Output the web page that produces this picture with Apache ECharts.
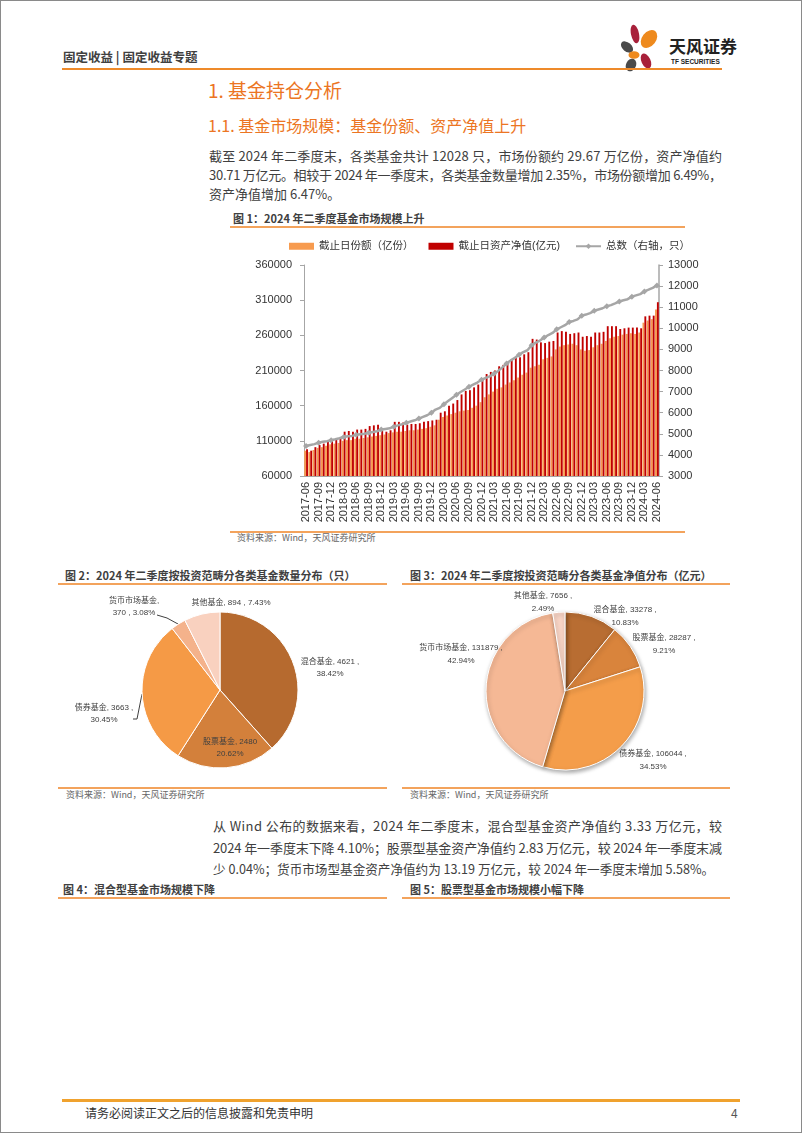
<!DOCTYPE html>
<html><head><meta charset="utf-8">
<script src="https://cdn.jsdelivr.net/npm/echarts@6/dist/echarts.min.js"></script>
<style>
html,body{margin:0;padding:0;background:#fff;}
#page{position:relative;width:802px;height:1133px;overflow:hidden;font-family:"Noto Sans CJK SC",sans-serif;color:#333;}
.t{position:absolute;white-space:nowrap;}
.j{position:absolute;white-space:nowrap;}
.hl{position:absolute;}
#frame{position:absolute;left:0;top:0;width:800px;height:1131px;border:1px solid #8a8a8a;}
#c{position:absolute;left:0;top:0;width:802px;height:1133px;}
.ft{font-size:11px;font-weight:bold;color:#404040;line-height:14px;}
.src{font-size:9px;color:#666;line-height:12px;}
.ol{height:1.5px;background:#F3A35C;}
.p{font-size:13px;color:#404040;}
</style></head>
<body>
<div id="page">
  <div id="frame"></div>
  <div class="t" style="left:63px;top:49px;font-size:12.5px;line-height:16px;font-weight:bold;color:#404040">固定收益 | 固定收益专题</div>
  <svg style="position:absolute;left:618px;top:24px" width="46" height="48" viewBox="0 0 46 48">
    <ellipse cx="17" cy="10" rx="4" ry="9.5" fill="#A8203A" transform="rotate(-12 17 10)"/>
    <ellipse cx="31" cy="15" rx="7" ry="10" fill="#EE8A1E" transform="rotate(38 31 15)"/>
    <ellipse cx="9" cy="23" rx="4.5" ry="7" fill="#4A4A4A" transform="rotate(-50 9 23)"/>
    <ellipse cx="16" cy="31" rx="5.5" ry="3.8" fill="#EE8A1E"/>
    <ellipse cx="13" cy="41" rx="5" ry="6.5" fill="#4A4A4A" transform="rotate(25 13 41)"/>
    <ellipse cx="28" cy="37" rx="4.5" ry="8" fill="#A8203A" transform="rotate(-25 28 37)"/>
  </svg>
  <div class="t" style="left:669px;top:36px;font-size:17px;line-height:20px;font-weight:bold;color:#222">天风证券</div>
  <div class="t" style="left:671px;top:58px;font-size:6.5px;line-height:8px;font-weight:bold;color:#222;font-family:'Liberation Sans',sans-serif">TF SECURITIES</div>
  <div class="hl" style="left:62px;top:68px;width:660px;height:2px;background:#EE8A2A"></div>

  <div class="t" style="left:208px;top:78px;font-size:19px;line-height:24px;color:#EC7523">1. 基金持仓分析</div>
  <div class="t" style="left:208px;top:115px;font-size:16px;line-height:20px;color:#EC7523">1.1. 基金市场规模：基金份额、资产净值上升</div>

  <div class="j p" data-w="513" style="left:209px;top:146px;line-height:19px">截至 2024 年二季度末，各类基金共计 12028 只，市场份额约 29.67 万亿份，资产净值约</div>
  <div class="j p" data-w="513" style="left:209px;top:165px;line-height:19px">30.71 万亿元。相较于 2024 年一季度末，各类基金数量增加 2.35%，市场份额增加 6.49%，</div>
  <div class="t p" style="left:209px;top:184px;line-height:19px">资产净值增加 6.47%。</div>

  <div class="t ft" style="left:233px;top:211px">图 1：2024 年二季度基金市场规模上升</div>
  <div class="hl ol" style="left:230px;top:226px;width:455px"></div>
  <div class="hl ol" style="left:230px;top:531px;width:455px"></div>
  <div class="t src" style="left:237px;top:532px">资料来源：Wind，天风证券研究所</div>

  <div class="t ft" style="left:65px;top:568px">图 2：2024 年二季度按投资范畴分各类基金数量分布（只）</div>
  <div class="hl ol" style="left:58px;top:583px;width:329px"></div>
  <div class="hl ol" style="left:58px;top:787px;width:329px"></div>
  <div class="t src" style="left:66px;top:789px">资料来源：Wind，天风证券研究所</div>

  <div class="t ft" style="left:410px;top:568px">图 3：2024 年二季度按投资范畴分各类基金净值分布（亿元）</div>
  <div class="hl ol" style="left:402px;top:583px;width:328px"></div>
  <div class="hl ol" style="left:402px;top:787px;width:328px"></div>
  <div class="t src" style="left:410px;top:789px">资料来源：Wind，天风证券研究所</div>

  <div class="j p" data-w="509" style="left:213px;top:815px;line-height:21.5px">从 Wind 公布的数据来看，2024 年二季度末，混合型基金资产净值约 3.33 万亿元，较</div>
  <div class="j p" data-w="509" style="left:213px;top:836.5px;line-height:21.5px">2024 年一季度末下降 4.10%；股票型基金资产净值约 2.83 万亿元，较 2024 年一季度末减</div>
  <div class="t p" style="left:213px;top:858px;line-height:21.5px;font-size:12.6px">少 0.04%；货币市场型基金资产净值约为 13.19 万亿元，较 2024 年一季度末增加 5.58%。</div>

  <div class="t ft" style="left:63px;top:882px">图 4：混合型基金市场规模下降</div>
  <div class="hl ol" style="left:58px;top:897px;width:329px"></div>
  <div class="t ft" style="left:410px;top:882px">图 5：股票型基金市场规模小幅下降</div>
  <div class="hl ol" style="left:402px;top:897px;width:328px"></div>

  <div class="hl" style="left:62px;top:1099px;width:678px;height:3px;background:#F0A22E"></div>
  <div class="t" style="left:85px;top:1105px;font-size:12px;line-height:16px;color:#333">请务必阅读正文之后的信息披露和免责申明</div>
  <div class="t" style="left:731px;top:1105px;font-size:12px;line-height:16px;color:#555">4</div>

  <div id="c"></div>
</div>
<script>
// fit justified single lines to their target width
document.querySelectorAll('.j').forEach(el=>{
  const target = +el.dataset.w;
  const n = el.textContent.length;
  const w = el.getBoundingClientRect().width;
  el.style.letterSpacing = ((target - w) / (n - 1)) + 'px';
});

// ---------- data ----------
const months = ['2017-06','2017-07','2017-08','2017-09','2017-10','2017-11','2017-12',
'2018-01','2018-02','2018-03','2018-04','2018-05','2018-06','2018-07','2018-08','2018-09','2018-10','2018-11','2018-12',
'2019-01','2019-02','2019-03','2019-04','2019-05','2019-06','2019-07','2019-08','2019-09','2019-10','2019-11','2019-12',
'2020-01','2020-02','2020-03','2020-04','2020-05','2020-06','2020-07','2020-08','2020-09','2020-10','2020-11','2020-12',
'2021-01','2021-02','2021-03','2021-04','2021-05','2021-06','2021-07','2021-08','2021-09','2021-10','2021-11','2021-12',
'2022-01','2022-02','2022-03','2022-04','2022-05','2022-06','2022-07','2022-08','2022-09','2022-10','2022-11','2022-12',
'2023-01','2023-02','2023-03','2023-04','2023-05','2023-06','2023-07','2023-08','2023-09','2023-10','2023-11','2023-12',
'2024-01','2024-02','2024-03','2024-04','2024-05','2024-06'];

const shares = [96000,94000,97000, 100000,101000,103000, 105000,106000,107000,
110000,111000,111000, 113000,113000,114000, 115000,116000,117000,
118000,119000,121000, 122000,123000,123000, 124000,125000,125000,
126000,127000,128000, 130000,132000,140000, 144000,146000,148000,
150000,152000,153000, 154000,157000,160000, 165000,172000,176000,
180000,184000,186000, 190000,193000,196000, 200000,204000,207000,
214000,216000,218000, 226000,228000,230000, 240000,244000,246000,
247000,248000,246000, 240000,238000,239000, 243000,246000,248000,
252000,256000,258000, 259000,261000,262000, 263000,262000,264000,
278000,281000,283000, 296700];

const nav = [98000,96000,101000, 104000,106000,109000, 111000,113000,114000,
123000,124000,123000, 126000,126000,127000, 131000,132000,133000,
124000,123000,125000, 137000,137000,136000, 133000,134000,134000,
135000,137000,138000, 139000,140000,150000, 152000,160000,163000,
168000,176000,181000, 182000,186000,190000, 198000,205000,208000,
210000,216000,218000, 222000,226000,229000, 229000,233000,236000,
255000,254000,250000, 249000,251000,252000, 264000,266000,265000,
262000,263000,264000, 258000,259000,258000, 264000,264000,265000,
273000,273000,273000, 269000,270000,271000, 271000,271000,270000,
287000,288000,288000, 307100];

const counts = [4420,4470,4510,4580,4620,4650,4700,4740,4790,4850,4880,4900,
4950,4980,5000,5050,5090,5120,5200,5230,5260,5340,5400,5450,
5520,5580,5640,5720,5800,5880,6000,6150,6230,6400,6550,6700,
6850,6980,7100,7230,7330,7430,7560,7650,7720,7850,7980,8150,
8330,8480,8600,8750,8870,8960,9200,9320,9420,9560,9680,9780,
9950,10050,10150,10300,10350,10420,10600,10650,10720,10830,10890,10950,
11050,11100,11180,11270,11330,11380,11500,11560,11620,11750,11830,11920,12030];

const pieNames = ['混合基金','股票基金','债券基金','货币市场基金','其他基金'];
const pieCount = [4621, 2480, 3663, 370, 894];
const pieNav = [33278, 28287, 106044, 131879, 7656];

// ---------- styles / layout ----------
const FONT = '"Liberation Sans", "Noto Sans CJK SC", sans-serif';
const pie1Colors = ['#B66A2F','#D3803B','#F59A46','#F4B28B','#F9D1BF'];
const pie2Colors = ['#B86D32','#D9843C','#F49D4A','#F5B895','#F8D4C5'];
const pie1Fmt = ['{b}, {c} ,\n{d}%','{b}, {c}\n{d}%','{b}, {c} ,\n{d}%','{b},\n{c} , {d}%','{b}, {c} , {d}%'];
const pie1Pos = [[330,668],[230,748],[104,714],[134,607],[231,603]];
const pie1Lines = {2: [[142,694],[137,719],[133,719]], 3: [[178,624],[167,618],[157,615]]};
const pie2Pos = [[625,616],[664,644],[653,760],[461,654],[543,602]];

function pieData(vals, colors, fmts, lines){
  return pieNames.map((n,i)=>({
    name:n, value:vals[i],
    itemStyle:{color:colors[i]},
    label: fmts ? {formatter: fmts[i]} : undefined,
    labelLine:{show: !!(lines && lines[i]), lineStyle:{color:'#404040', width:1}}
  }));
}
function layoutFn(pos, lines){
  return function(p){
    const r = {x:pos[p.dataIndex][0], y:pos[p.dataIndex][1], align:'center', verticalAlign:'middle'};
    if (lines && lines[p.dataIndex]) r.labelLinePoints = lines[p.dataIndex];
    return r;
  };
}
const plain = v => String(v);

const chart = echarts.init(document.getElementById('c'), null, {renderer:'canvas', width:802, height:1133});
chart.setOption({
  animation:false,
  backgroundColor:'transparent',
  textStyle:{fontFamily:FONT},
  legend:{
    left:284, top:236, itemWidth:25, itemHeight:7, itemGap:15,
    textStyle:{fontSize:10.5, color:'#333', fontFamily:FONT},
    data:[{name:'截止日份额（亿份）', icon:'rect'},{name:'截止日资产净值(亿元)', icon:'rect'},{name:'总数（右轴，只）'}]
  },
  grid:{left:304, top:265, width:355, height:211},
  xAxis:{
    type:'category', data:months, boundaryGap:true,
    axisLine:{lineStyle:{color:'#A6A6A6'}},
    axisTick:{interval:2, length:4, lineStyle:{color:'#A6A6A6'}},
    axisLabel:{interval:2, rotate:90, fontSize:11, color:'#333', margin:6, fontFamily:FONT}
  },
  yAxis:[
    {type:'value', min:60000, max:360000, interval:50000, position:'left',
     axisLine:{show:true, lineStyle:{color:'#A6A6A6'}},
     axisTick:{show:true, length:4, lineStyle:{color:'#A6A6A6'}},
     splitLine:{show:false},
     axisLabel:{fontSize:11, color:'#333', margin:12, fontFamily:FONT, formatter:plain}},
    {type:'value', min:3000, max:13000, interval:1000, position:'right',
     axisLine:{show:true, lineStyle:{color:'#A6A6A6', width:1.5}},
     axisTick:{show:true, length:4, lineStyle:{color:'#A6A6A6'}},
     splitLine:{show:false},
     axisLabel:{fontSize:11, color:'#333', margin:9, fontFamily:FONT, formatter:plain}}
  ],
  series:[
    {type:'bar', name:'截止日份额（亿份）', data:shares, itemStyle:{color:'#F79B4F'}, barGap:'0%', barCategoryGap:'10%'},
    {type:'bar', name:'截止日资产净值(亿元)', data:nav, itemStyle:{color:'#C00000'}, barGap:'0%', barCategoryGap:'10%'},
    {type:'line', name:'总数（右轴，只）', yAxisIndex:1, data:counts, symbol:'diamond', symbolSize:6,
     lineStyle:{color:'#A6A6A6', width:2.5}, itemStyle:{color:'#A6A6A6'}, z:5},
    {type:'pie', center:[220,690], radius:78, startAngle:90, clockwise:true, avoidLabelOverlap:false,
     itemStyle:{borderColor:'#fff', borderWidth:1},
     label:{show:true, position:'outside', fontSize:8, lineHeight:12.5, color:'#404040', fontFamily:FONT},
     labelLayout: layoutFn(pie1Pos, pie1Lines),
     emphasis:{disabled:true},
     data: pieData(pieCount, pie1Colors, pie1Fmt, pie1Lines)},
    {type:'pie', center:[565,691], radius:79, startAngle:90, clockwise:true, avoidLabelOverlap:false,
     itemStyle:{borderColor:'#fff', borderWidth:1, shadowBlur:4, shadowColor:'rgba(0,0,0,0.35)', shadowOffsetX:1, shadowOffsetY:2},
     label:{show:true, position:'outside', fontSize:8, lineHeight:13, color:'#404040', fontFamily:FONT, formatter:'{b}, {c} ,\n{d}%'},
     labelLine:{show:false},
     labelLayout: layoutFn(pie2Pos, null),
     emphasis:{disabled:true},
     data: pieData(pieNav, pie2Colors, null, null)}
  ]
});
</script>
</body></html>
